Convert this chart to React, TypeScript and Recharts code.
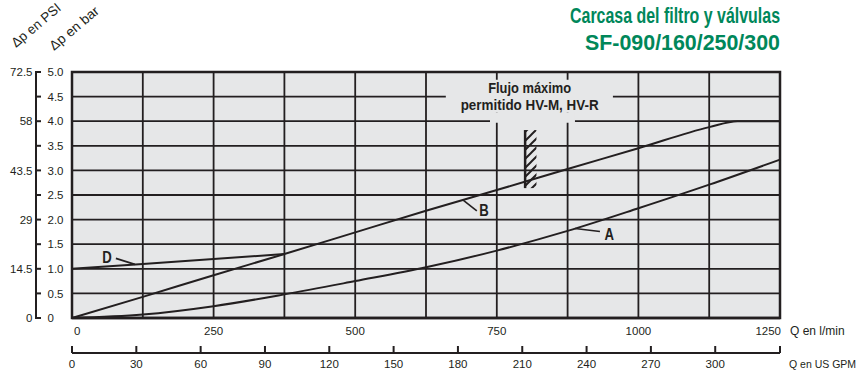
import {
  LineChart,
  Line,
  XAxis,
  YAxis,
  CartesianGrid,
  ReferenceArea,
  ReferenceLine,
  ReferenceDot,
} from "recharts";

// pressure drop (bar) against flow (l/min)
const curveA = [
  { q: 0, dp: 0 },
  { q: 125, dp: 0.07 },
  { q: 250, dp: 0.24 },
  { q: 375, dp: 0.48 },
  { q: 500, dp: 0.75 },
  { q: 625, dp: 1.03 },
  { q: 750, dp: 1.37 },
  { q: 875, dp: 1.77 },
  { q: 1000, dp: 2.23 },
  { q: 1125, dp: 2.71 },
  { q: 1250, dp: 3.22 },
];

const curveB = [
  { q: 0, dp: 0 },
  { q: 125, dp: 0.43 },
  { q: 250, dp: 0.87 },
  { q: 375, dp: 1.3 },
  { q: 500, dp: 1.74 },
  { q: 625, dp: 2.18 },
  { q: 750, dp: 2.6 },
  { q: 875, dp: 3.03 },
  { q: 1000, dp: 3.45 },
  { q: 1125, dp: 3.88 },
  { q: 1175, dp: 4.0 },
  { q: 1250, dp: 4.0 },
];

const curveD = [
  { q: 0, dp: 1.0 },
  { q: 125, dp: 1.1 },
  { q: 250, dp: 1.2 },
  { q: 375, dp: 1.3 },
];

// where each curve letter hooks onto its curve
const curveLabels = [
  { name: "D", q: 111, dp: 1.09 },
  { name: "B", q: 690, dp: 2.4 },
  { name: "A", q: 888, dp: 1.82 },
];

const lpmTicks = [0, 125, 250, 375, 500, 625, 750, 875, 1000, 1125, 1250];
const gpmTicks = [0, 30, 60, 90, 120, 150, 180, 210, 240, 270, 300];
const GPM_TO_LPM = 3.78541;
const barTicks = [0, 0.5, 1, 1.5, 2, 2.5, 3, 3.5, 4, 4.5, 5];
const barLabels = ["0", "0.5", "1.0", "1.5", "2.0", "2.5", "3.0", "3.5", "4.0", "4.5", "5.0"];
const psiLabels = ["0", "14.5", "29", "43.5", "58", "72.5"];

// max flow for HV-M / HV-R valves
const maxFlowHV = 800;
const maxFlowBand = [2.64, 3.82];

const INK = "#231f20";
const PLOT_BG = "#e6e7e8";
const GREEN = "#00875a";
const FONT = '"Liberation Sans", Arial, sans-serif';
const TICK_FS = 11.5;

const W = 856;
const H = 372;
const LPM_AXIS_H = 35;
const GPM_AXIS_H = 19;
const PLOT_TOP = 72;
const PLOT_H = H - PLOT_TOP - LPM_AXIS_H - GPM_AXIS_H;
const GPM_LINE_Y = PLOT_TOP + PLOT_H + LPM_AXIS_H;

function BarTick(props: any) {
  const { y, index } = props;
  const psi = index % 2 === 0 ? psiLabels[index / 2] : null;
  return (
    <g fontFamily={FONT} fontSize={TICK_FS} fill={INK}>
      {index === barTicks.length - 1 && (
        <line x1={36} x2={36} y1={y - 1} y2={y + PLOT_H + 1} stroke={INK} strokeWidth={2} />
      )}
      <line x1={35} x2={41} y1={y} y2={y} stroke={INK} strokeWidth={2} />
      <text x={47.5} y={y} dy="0.36em">
        {barLabels[index]}
      </text>
      {psi && (
        <text x={32.5} y={y} dy="0.36em" textAnchor="end">
          {psi}
        </text>
      )}
    </g>
  );
}

function LpmTick(props: any) {
  const { x, payload, index } = props;
  if (payload.value % 250 !== 0) return <g />;
  let anchor = "middle";
  let tx = x;
  if (index === 0) {
    anchor = "start";
    tx = x + 2;
  } else if (index === lpmTicks.length - 1) {
    anchor = "end";
    tx = x + 1;
  }
  return (
    <text x={tx} y={PLOT_TOP + PLOT_H + 17} textAnchor={anchor} fontFamily={FONT} fontSize={TICK_FS} fill={INK}>
      {payload.value}
    </text>
  );
}

function GpmTick(props: any) {
  const { x, index } = props;
  return (
    <g>
      <line x1={x} x2={x} y1={GPM_LINE_Y - 7} y2={GPM_LINE_Y} stroke={INK} strokeWidth={2} />
      {index < gpmTicks.length && (
        <text x={x} y={GPM_LINE_Y + 15} textAnchor="middle" fontFamily={FONT} fontSize={TICK_FS} fill={INK}>
          {gpmTicks[index]}
        </text>
      )}
    </g>
  );
}

const labelOffsets: Record<string, { lx: number; ly: number; tx: number; ty: number }> = {
  D: { lx: -19, ly: -6, tx: -28, ty: -1 },
  B: { lx: 14, ly: 11, tx: 21, ty: 16 },
  A: { lx: 25, ly: 3, tx: 34, ty: 12 },
};

function CurveLabel(props: any) {
  const { cx, cy, name } = props;
  const o = labelOffsets[name];
  return (
    <g>
      <line x1={cx} y1={cy} x2={cx + o.lx} y2={cy + o.ly} stroke={INK} strokeWidth={1.6} />
      <text
        x={cx + o.tx - 4.5}
        y={cy + o.ty}
        textLength={9.5}
        lengthAdjust="spacingAndGlyphs"
        fontFamily={FONT}
        fontWeight="bold"
        fontSize={17}
        fill={INK}
      >
        {name}
      </text>
    </g>
  );
}

function FlowNote(props: any) {
  const { cx, cy } = props;
  return (
    <g fontFamily={FONT} fontWeight="bold" fontSize={15} fill={INK} textAnchor="middle">
      <text x={cx} y={cy - 4} textLength={83} lengthAdjust="spacingAndGlyphs">
        Flujo máximo
      </text>
      <text x={cx} y={cy + 13.5} textLength={138} lengthAdjust="spacingAndGlyphs">
        permitido HV-M, HV-R
      </text>
    </g>
  );
}

const lineProps = {
  dataKey: "dp",
  type: "monotone" as const,
  stroke: INK,
  strokeWidth: 2,
  dot: false,
  activeDot: false,
  isAnimationActive: false,
};

export default function App() {
  return (
    <div style={{ position: "absolute", left: 0, top: 0, width: W, height: H, background: "#fff" }}>
      <LineChart width={W} height={H} margin={{ top: PLOT_TOP, right: 76, bottom: 0, left: 0 }}>
        <defs>
          <pattern id="hatch" patternUnits="userSpaceOnUse" width={9} height={9}>
            <path d="M0,9 L9,0 M-2,2 L2,-2 M7,11 L11,7" stroke={INK} strokeWidth={2} />
          </pattern>
        </defs>
        <CartesianGrid stroke={INK} strokeWidth={1.8} fill={PLOT_BG} fillOpacity={1} />
        <XAxis
          dataKey="q"
          type="number"
          domain={[0, 1250]}
          ticks={lpmTicks}
          interval={0}
          height={LPM_AXIS_H}
          axisLine={{ stroke: INK, strokeWidth: 2.5 }}
          tickLine={false}
          tick={(p: any) => <LpmTick {...p} />}
        />
        <XAxis
          xAxisId="gpm"
          dataKey="q"
          type="number"
          domain={[0, 1250]}
          ticks={[...gpmTicks.map((g) => g * GPM_TO_LPM), 1250]}
          interval={0}
          height={GPM_AXIS_H}
          axisLine={{ stroke: INK, strokeWidth: 2 }}
          tickLine={false}
          tick={(p: any) => <GpmTick {...p} />}
        />
        <YAxis
          type="number"
          domain={[0, 5]}
          ticks={barTicks}
          interval={0}
          width={72}
          axisLine={false}
          tickLine={false}
          tick={(p: any) => <BarTick {...p} />}
        />

        {/* gaps in the grid behind the note */}
        <ReferenceArea x1={660} x2={955} y1={4.17} y2={4.84} fill={PLOT_BG} fillOpacity={1} stroke="none" />
        <ReferenceArea x1={738} x2={888} y1={3.97} y2={4.17} fill={PLOT_BG} fillOpacity={1} stroke="none" />
        <ReferenceArea x1={0} x2={1250} y1={0} y2={5} fill="none" stroke={INK} strokeWidth={2.5} />

        <ReferenceArea
          x1={maxFlowHV}
          x2={maxFlowHV + 20}
          y1={maxFlowBand[0]}
          y2={maxFlowBand[1]}
          fill="url(#hatch)"
          fillOpacity={1}
          stroke="none"
        />
        <ReferenceLine
          segment={[
            { x: maxFlowHV, y: maxFlowBand[0] },
            { x: maxFlowHV, y: maxFlowBand[1] },
          ]}
          stroke={INK}
          strokeWidth={2.5}
        />

        <Line data={curveA} {...lineProps} />
        <Line data={curveB} {...lineProps} />
        <Line data={curveD} {...lineProps} />
        {/* invisible copy so the GPM axis has a series and draws its ticks */}
        <Line data={curveA} xAxisId="gpm" {...lineProps} stroke="none" legendType="none" />

        {curveLabels.map((l) => (
          <ReferenceDot
            key={l.name}
            x={l.q}
            y={l.dp}
            r={0}
            shape={(p: any) => <CurveLabel {...p} name={l.name} />}
          />
        ))}
        <ReferenceDot x={808} y={4.5} r={0} shape={(p: any) => <FlowNote {...p} />} />

        <g fontFamily={FONT} fill={GREEN} fontWeight="bold" fontSize={21.5} textAnchor="end">
          <text x={780} y={22.5} textLength={210} lengthAdjust="spacingAndGlyphs">
            Carcasa del filtro y válvulas
          </text>
          <text x={780} y={50} textLength={195} lengthAdjust="spacingAndGlyphs">
            SF-090/160/250/300
          </text>
        </g>
        <g fontFamily={FONT} fill={INK} fontSize={13.5}>
          <g transform="translate(16 48) rotate(-40)">
            <text x={0} y={0} textLength={60} lengthAdjust="spacingAndGlyphs">Δp en PSI</text>
          </g>
          <g transform="translate(54 51) rotate(-40)">
            <text x={0} y={0} textLength={60} lengthAdjust="spacingAndGlyphs">Δp en bar</text>
          </g>
          <text x={790} y={PLOT_TOP + PLOT_H + 17} fontSize={12}>Q en l/min</text>
          <text x={789} y={GPM_LINE_Y + 15} fontSize={10.5}>
            Q en US GPM
          </text>
        </g>
      </LineChart>
    </div>
  );
}
